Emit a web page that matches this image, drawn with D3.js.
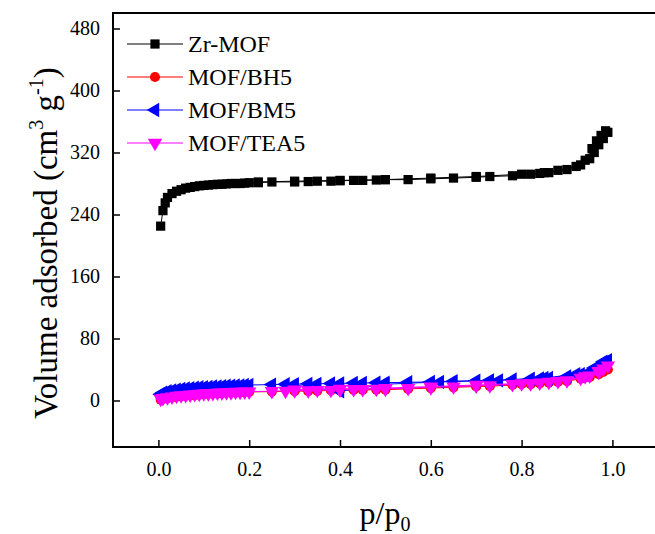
<!DOCTYPE html>
<html>
<head>
<meta charset="utf-8">
<script src="https://cdn.jsdelivr.net/npm/d3@7"></script>
<style>
  body { margin: 0; background: #fff; overflow: hidden; }
  svg text { font-family: "Liberation Serif", "Times New Roman", serif; }
</style>
</head>
<body>
<script>
// series data, p/p0 against volume adsorbed (adsorption then desorption)
var zrP = [0.005,0.01,0.015,0.02,0.03,0.04,0.05,0.06,0.07,0.08,0.09,0.10,0.11,0.12,0.13,0.14,0.15,0.16,0.17,0.18,0.19,0.20,0.22,0.25,0.30,0.33,0.35,0.38,0.40,0.43,0.45,0.48,0.50,0.55,0.60,0.65,0.70,0.73,0.78,0.82,0.84,0.86,0.90,0.93,0.95,0.96,0.97,0.98,0.99,
           0.985,0.975,0.965,0.955,0.94,0.92,0.88,0.85,0.80,0.70,0.60,0.50,0.40,0.30,0.22];
var zrV = [225,245,255,262,267,270,272,274,275,276,277,277.5,278,278.5,279,279,279.5,280,280,280,280.5,281,281,282,282,282.5,283,283,283.5,284,284,284.5,285,285,286,287,288,289,290,292,293,294,298,304,312,320,330,338,346,
           348,342,335,325,310,302,297,294,292,289,287,285,284,283,282];

var bhP = [0.005,0.01,0.02,0.03,0.04,0.05,0.06,0.07,0.08,0.09,0.10,0.11,0.12,0.13,0.14,0.15,0.16,0.17,0.18,0.19,0.20,0.25,0.30,0.33,0.35,0.38,0.40,0.43,0.45,0.48,0.50,0.55,0.60,0.65,0.70,0.73,0.78,0.82,0.84,0.86,0.90,0.93,0.95,0.97,0.98,0.99,
           0.97,0.94,0.88,0.80,0.70,0.60,0.50,0.40,0.30];
var bhV = [1,2,3,4,5,5.5,6,6.5,7,7.5,8,8.5,9,9,9.5,10,10,10.5,10.5,11,11,11.5,12,12,12.5,13,13,13.5,13.5,14,14,15,16,17,18,18.5,20,21,22,23,25,28,30,34,37,40,
           36,30,24,21,19,17,15,14,13];

var bmP = [0.005,0.01,0.02,0.03,0.04,0.05,0.06,0.07,0.08,0.09,0.10,0.11,0.12,0.13,0.14,0.15,0.16,0.17,0.18,0.19,0.20,0.25,0.28,0.30,0.33,0.35,0.38,0.40,0.43,0.45,0.48,0.50,0.55,0.60,0.65,0.70,0.73,0.78,0.82,0.84,0.86,0.90,0.93,0.95,0.97,0.98,0.99,
           0.98,0.96,0.92,0.85,0.75,0.62,0.50,0.40,0.30];
var bmV = [8,10,12,13,14,15,15.5,16,16.5,17,17,17.5,18,18,18.5,19,19,19.5,19.5,20,20,20.5,21,21,21.5,21.5,22,22,22.5,22.5,23,23,23.5,24,25,25.5,26,27,28,28.5,29,31,34,37,42,47,52,
           50,42,34,29,26,24,21,12,20];

var teaP = [0.005,0.01,0.02,0.03,0.04,0.05,0.06,0.07,0.08,0.09,0.10,0.11,0.12,0.13,0.14,0.15,0.16,0.17,0.18,0.19,0.20,0.25,0.28,0.30,0.33,0.35,0.38,0.40,0.43,0.45,0.48,0.50,0.55,0.60,0.65,0.70,0.73,0.78,0.82,0.84,0.86,0.90,0.93,0.95,0.97,0.98,0.99,
            0.97,0.94,0.88,0.80,0.70,0.60,0.50,0.40,0.30];
var teaV = [2,3,4,5,6,6.5,7,7.5,8,8.5,9,9,9.5,10,10,10.5,10.5,11,11,11.5,11.5,12,12.5,13,13,13.5,13.5,14,14.5,14.5,15,15,16,17,18,19,19.5,21,22,23,24,26,29,32,37,41,45,
            38,31,25,22,20,18,16,15,14];

var series = [
  { name: "Zr-MOF", p: zrP, v: zrV, color: "#000000", marker: "square" },
  { name: "MOF/BH5", p: bhP, v: bhV, color: "#ff0000", marker: "circle" },
  { name: "MOF/BM5", p: bmP, v: bmV, color: "#0000ff", marker: "left" },
  { name: "MOF/TEA5", p: teaP, v: teaV, color: "#ff00ff", marker: "down" }
];
var xTicks = [0.0, 0.2, 0.4, 0.6, 0.8, 1.0];
var yTicks = [0, 80, 160, 240, 320, 400, 480];

var w = 655, h = 534;
var mLeft = 113, mTop = 13, mBottom = 447;

var svg = d3.select("body").append("svg")
  .attr("width", w)
  .attr("height", h);

var x = d3.scaleLinear().domain([-0.1, 1.1]).range([mLeft, mLeft + (612.3 - 158.3) * 1.2]);
var y = d3.scaleLinear().domain([-60, 500]).range([mBottom, mTop]);

// frame: left, top and bottom only, the right side runs off the picture
svg.append("path")
  .attr("d", "M" + w + "," + mTop + "H" + mLeft + "V" + mBottom + "H" + w)
  .attr("fill", "none").attr("stroke", "#000").attr("stroke-width", 2);

var xAxis = svg.append("g")
  .attr("transform", "translate(0," + mBottom + ")")
  .call(d3.axisBottom(x).tickValues(xTicks).tickSize(-7).tickPadding(15)
    .tickFormat(d3.format(".1f")));
var yAxis = svg.append("g")
  .attr("transform", "translate(" + mLeft + ",0)")
  .call(d3.axisLeft(y).tickValues(yTicks).tickSize(-7).tickPadding(13));

[xAxis, yAxis].forEach(function(a) {
  a.select(".domain").remove();
  a.selectAll("line").attr("stroke", "#000").attr("stroke-width", 1.5);
  a.selectAll("text").attr("font-size", "20px").attr("fill", "#000")
    .attr("font-family", "Liberation Serif, serif");
});

function symbolFor(m) {
  if (m === "square") return d3.symbol().type(d3.symbolSquare).size(85);
  if (m === "circle") return d3.symbol().type(d3.symbolCircle).size(80);
  return d3.symbol().type(d3.symbolTriangle).size(90);
}
function rot(m) {
  if (m === "left") return " rotate(-90)";
  if (m === "down") return " rotate(180)";
  return "";
}

var line = d3.line()
  .x(function(d) { return x(d[0]); })
  .y(function(d) { return y(d[1]); });

var plot = svg.append("g");

series.forEach(function(s) {
  var pts = s.p.map(function(p, i) { return [p, s.v[i]]; });
  plot.append("path")
    .attr("d", line(pts))
    .attr("fill", "none")
    .attr("stroke", s.color)
    .attr("stroke-width", 1);
  plot.selectAll(null)
    .data(pts)
    .enter()
    .append("path")
    .attr("d", symbolFor(s.marker))
    .attr("transform", function(d) {
      return "translate(" + x(d[0]) + "," + y(d[1]) + ")" + rot(s.marker);
    })
    .attr("fill", s.color);
});

// legend
var legend = svg.append("g");
series.forEach(function(s, i) {
  var ly = 44 + i * 33;
  legend.append("line")
    .attr("x1", 127).attr("x2", 183)
    .attr("y1", ly).attr("y2", ly)
    .attr("stroke", s.color).attr("stroke-width", 1);
  legend.append("path")
    .attr("d", symbolFor(s.marker))
    .attr("transform", "translate(155," + ly + ")" + rot(s.marker))
    .attr("fill", s.color);
  legend.append("text")
    .attr("x", 188).attr("y", ly + 8)
    .attr("font-size", "24px")
    .attr("fill", "#000")
    .text(s.name);
});

// axis titles
var yt = svg.append("text")
  .attr("transform", "translate(57,243) rotate(-90)")
  .attr("text-anchor", "middle")
  .attr("font-size", "33px")
  .attr("fill", "#000");
yt.append("tspan").text("Volume adsorbed (cm");
yt.append("tspan").attr("dy", -14).attr("font-size", "20px").text("3");
yt.append("tspan").attr("dy", 14).text(" g");
yt.append("tspan").attr("dy", -14).attr("font-size", "20px").text("-1");
yt.append("tspan").attr("dy", 14).text(")");

var xt = svg.append("text")
  .attr("x", 385).attr("y", 524)
  .attr("text-anchor", "middle")
  .attr("font-size", "32px")
  .attr("fill", "#000");
xt.append("tspan").text("p/p");
xt.append("tspan").attr("dy", 7).attr("font-size", "20px").text("0");
</script>
</body>
</html>
